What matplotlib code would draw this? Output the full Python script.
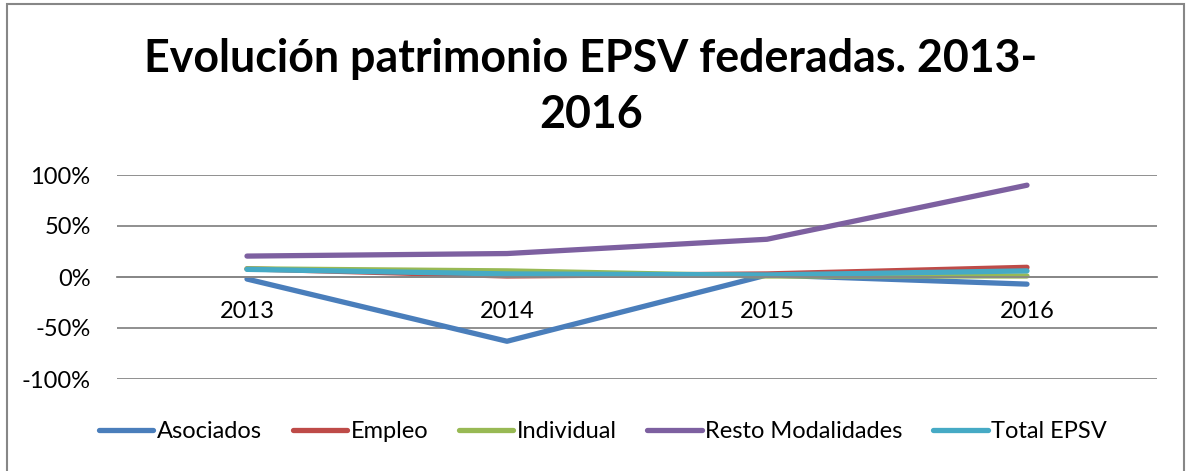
import matplotlib
matplotlib.use("Agg")
import matplotlib.pyplot as plt
from matplotlib.patches import Rectangle
from matplotlib.ticker import FuncFormatter, MultipleLocator

years = ["2013", "2014", "2015", "2016"]
asociados = [-2, -63, 2, -7]
empleo = [8, 1, 3, 9.5]
individual = [8, 6, 1, 1]
resto = [20.5, 23, 37, 90]
total = [7.5, 3, 2, 6]

series_names = ["Asociados", "Empleo", "Individual", "Resto Modalidades", "Total EPSV"]
series_vals = [asociados, empleo, individual, resto, total]
colors = ["#4A7EBB", "#BE4B48", "#98B954", "#7D60A0", "#46AAC5"]

plt.rcParams['font.family'] = ['Lato', 'DejaVu Sans']

W, H = 1186, 471
fig = plt.figure(figsize=(W / 100, H / 100), dpi=100)
fig.patch.set_facecolor("white")

# outer frame
fig.add_artist(Rectangle((7 / W, -0.05), (1184 - 7) / W, 1 - 4 / H + 0.05,
                         transform=fig.transFigure, fill=False,
                         edgecolor="#878787", linewidth=1.5))

ax = fig.add_axes([117 / W, 1 - 379 / H, (1157 - 117) / W, (379 - 175) / H])
x = list(range(len(years)))
lines = []
for name, vals, c in zip(series_names, series_vals, colors):
    ln, = ax.plot(x, [v / 100 for v in vals], color=c, linewidth=3.8,
                  solid_capstyle="round", label=name)
    lines.append(ln)

ax.set_xlim(-0.5, len(years) - 0.5)
ax.set_ylim(-1, 1)
ax.yaxis.set_major_locator(MultipleLocator(0.5))
ax.yaxis.set_major_formatter(FuncFormatter(lambda v, p: f"{v*100:.0f}%"))
ax.grid(axis="y", color="#878787", linewidth=1.3)
ax.set_axisbelow(True)
for s in ["top", "right", "left"]:
    ax.spines[s].set_visible(False)
ax.spines["bottom"].set_position(("data", 0))
ax.spines["bottom"].set_color("#878787")
ax.spines["bottom"].set_linewidth(1.3)
ax.set_xticks(x)
ax.set_xticklabels(years)
ax.tick_params(axis="x", length=0, pad=17, labelsize=17)
ax.tick_params(axis="y", length=0, pad=19, labelsize=17)

fig.text(591 / W, 1 - 87 / H, "Evolución patrimonio EPSV federadas. 2013-\n2016",
         ha="center", va="center", fontsize=32.2, fontweight="bold",
         linespacing=1.4)

fig.legend(handles=lines, loc="center", bbox_to_anchor=(603 / W, 1 - 432 / H),
           ncol=5, frameon=False, fontsize=17, handlelength=2.3, handletextpad=0.15,
           columnspacing=1.3)

fig.savefig("out.png", dpi=100)
